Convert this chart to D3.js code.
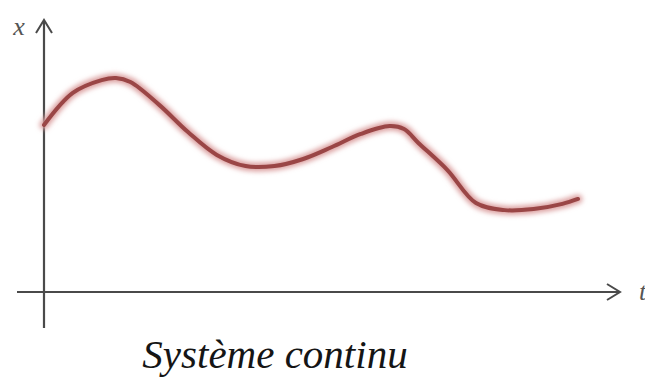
<!DOCTYPE html>
<html>
<head>
<meta charset="utf-8">
<script src="https://cdn.jsdelivr.net/npm/d3@7"></script>
<style>
  body { margin: 0; background: #fff; }
  svg { display: block; }
</style>
</head>
<body>
<div class="canva"></div>
<script>
// signal samples (time, value)
const times  = [0, 0.5, 1, 1.25, 1.5, 2, 2.5, 3, 3.5, 4, 4.5, 5, 5.5, 6, 6.25, 6.5, 7, 7.5, 8, 8.5, 9, 9.27];
const values = [6.14, 7.32, 7.79, 7.87, 7.72, 6.88, 5.88, 5.04, 4.63, 4.63, 4.89, 5.33, 5.81, 6.10, 5.99, 5.48, 4.49, 3.27, 3.01, 3.05, 3.24, 3.42];
const axisLabels = ["x", "t"];
const title = "Système continu";

const width = 645, height = 379;
const serif = '"Times New Roman"';

const svg = d3.select(".canva").append("svg")
    .attr("width", width)
    .attr("height", height);

// scales
const xScale = d3.scaleLinear().domain([0, 10]).range([44, 620]);
const yScale = d3.scaleLinear().domain([0, 10]).range([292, 20]);

// glow filter for the curve
const defs = svg.append("defs");
const f = defs.append("filter").attr("id", "glow")
    .attr("x", "-10%").attr("y", "-20%").attr("width", "120%").attr("height", "140%");
f.append("feGaussianBlur").attr("stdDeviation", 2.5);

const axisColor = "#4a4a4a";

// vertical axis
svg.append("line")
    .attr("x1", xScale(0)).attr("x2", xScale(0))
    .attr("y1", 328).attr("y2", yScale(10) + 2)
    .attr("stroke", axisColor).attr("stroke-width", 2.2);

// horizontal axis
svg.append("line")
    .attr("x1", 17).attr("x2", xScale(10) - 1)
    .attr("y1", yScale(0)).attr("y2", yScale(0))
    .attr("stroke", axisColor).attr("stroke-width", 2.2);

// arrow heads (open chevrons)
svg.append("path")
    .attr("d", `M${xScale(0) - 8},${yScale(10) + 13} L${xScale(0)},${yScale(10)} L${xScale(0) + 8},${yScale(10) + 13}`)
    .attr("fill", "none").attr("stroke", axisColor).attr("stroke-width", 2);

svg.append("path")
    .attr("d", `M${xScale(10) - 13},${yScale(0) - 8} L${xScale(10)},${yScale(0)} L${xScale(10) - 13},${yScale(0) + 8}`)
    .attr("fill", "none").attr("stroke", axisColor).attr("stroke-width", 2);

// axis labels
svg.append("text")
    .attr("x", 19).attr("y", 35)
    .attr("text-anchor", "middle")
    .style("font-family", serif)
    .style("font-style", "italic")
    .style("font-size", "26px")
    .attr("fill", "#555")
    .text(axisLabels[0]);

svg.append("text")
    .attr("x", 639).attr("y", 300)
    .style("font-family", serif)
    .style("font-style", "italic")
    .style("font-size", "26px")
    .attr("fill", "#555")
    .text(axisLabels[1]);

// the curve
const pts = times.map((t, i) => [t, values[i]]);
const line = d3.line()
    .x(d => xScale(d[0]))
    .y(d => yScale(d[1]))
    .curve(d3.curveCatmullRom.alpha(0.5));

svg.append("path")
    .datum(pts)
    .attr("d", line)
    .attr("fill", "none")
    .attr("stroke", "#dca0a0")
    .attr("stroke-width", 9)
    .attr("stroke-linecap", "round")
    .attr("filter", "url(#glow)");

svg.append("path")
    .datum(pts)
    .attr("d", line)
    .attr("fill", "none")
    .attr("stroke", "#9a4646")
    .attr("stroke-width", 4)
    .attr("stroke-linecap", "round");

// title
svg.append("text")
    .attr("x", 275).attr("y", 368)
    .attr("text-anchor", "middle")
    .style("font-family", serif)
    .style("font-style", "italic")
    .style("font-size", "41px")
    .attr("fill", "#151515")
    .text(title);
</script>
</body>
</html>
